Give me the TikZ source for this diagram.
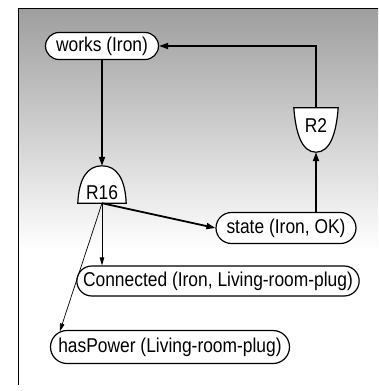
\documentclass[tikz,border=0pt]{standalone}
\usepackage{fontspec}
\setmainfont{Liberation Sans}[FakeStretch=0.87]
\usetikzlibrary{shapes,arrows.meta,positioning,backgrounds}

\begin{document}
\begin{tikzpicture}[x=1pt, y=1pt, node distance=1.5cm, font=\fontsize{20}{22}\selectfont,
    fact/.style={draw, rounded rectangle, fill=white, line width=1.2pt, inner xsep=3pt, minimum height=31pt},
    gate/.style={minimum width=48pt, inner sep=0pt},
    main/.style={line width=1.8pt, -{Triangle[length=9pt,width=6pt]}},
    side/.style={line width=0.7pt, -{Triangle[length=8pt,width=4.5pt]}}]
    \useasboundingbox (0,0) rectangle (378,-391);

    \node[fact, minimum width=119pt, minimum height=27pt] (works) at (102,-46) {works (Iron)};
    \node[gate, minimum height=20pt, below of=works, node distance=147pt] (r16) {R16};
    \node[gate, minimum width=44pt, minimum height=36pt] (r2) at (316,-126) {R2};
    \node[fact, minimum width=146pt] (state) at (286,-228) {state (Iron, OK)};
    \node[fact, minimum width=276pt, minimum height=30pt] (conn) at (218,-281) {Connected (Iron, Living-room-plug)};
    \node[fact, minimum width=245pt, minimum height=33pt] (power) at (170,-347) {hasPower (Living-room-plug)};

    \coordinate (r16top) at ([yshift=17pt]r16.north);
    \coordinate (r2tip) at ([yshift=-8pt]r2.south);

    \begin{pgfonlayer}{background}
        % shaded panel and its frame
        \shade[top color=black!38, bottom color=white] (18,-8) rectangle (378,-250);
        \draw[line width=0.8pt] (18,-385) -- (18,-8) -- (378,-8);
        % rule gates
        \draw[line width=1.2pt, fill=white] (r16.south west) .. controls +(1,24) and +(-15,0) .. (r16top)
            .. controls +(15,0) and +(-1,24) .. (r16.south east) -- cycle;
        \draw[line width=1.2pt, fill=white] (r2.north west) .. controls +(2,-26) and +(-14,0) .. (r2tip)
            .. controls +(14,0) and +(-2,-26) .. (r2.north east) -- cycle;
    \end{pgfonlayer}

    \draw[main] (works) -- (r16top);
    \draw[main] (r2) |- (works);
    \draw[main] (state.north -| r2tip) -- (r2tip);
    \draw[main] (r16.south) -- (state.west);
    \draw[side] (r16.south) -- (r16.south |- conn.north);
    \draw[side] (r16.south) -- (power.172);
\end{tikzpicture}
\end{document}
